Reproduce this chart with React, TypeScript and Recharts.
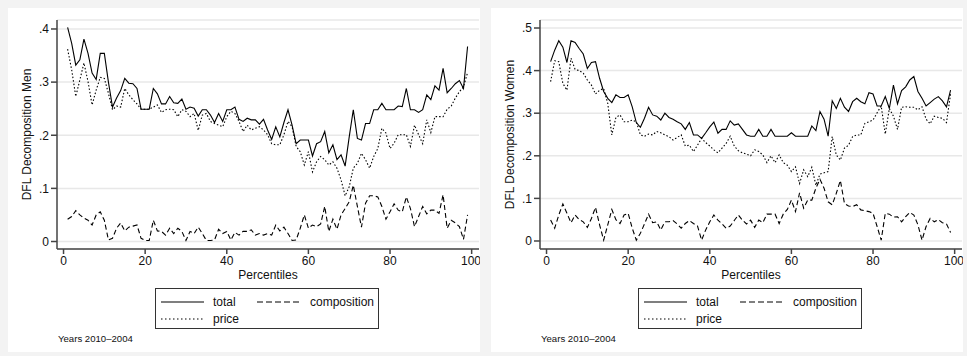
import { LineChart, Line, XAxis, YAxis, CartesianGrid, Legend } from 'recharts'

// percentiles 1..99
const pctl = [
  1, 2, 3, 4, 5, 6, 7, 8, 9, 10, 11, 12, 13, 14, 15, 16, 17, 18, 19, 20,
  21, 22, 23, 24, 25, 26, 27, 28, 29, 30, 31, 32, 33, 34, 35, 36, 37, 38, 39, 40,
  41, 42, 43, 44, 45, 46, 47, 48, 49, 50, 51, 52, 53, 54, 55, 56, 57, 58, 59, 60,
  61, 62, 63, 64, 65, 66, 67, 68, 69, 70, 71, 72, 73, 74, 75, 76, 77, 78, 79, 80,
  81, 82, 83, 84, 85, 86, 87, 88, 89, 90, 91, 92, 93, 94, 95, 96, 97, 98, 99,
]

const menTotal = [
  .403, .373, .332, .342, .381, .354, .317, .305, .354, .354,
  .300, .253, .270, .284, .307, .298, .297, .288, .249, .249,
  .249, .288, .278, .259, .259, .273, .261, .260, .268, .249,
  .253, .251, .236, .248, .248, .238, .224, .241, .226, .248,
  .248, .253, .230, .226, .232, .229, .229, .221, .230, .210,
  .192, .216, .197, .224, .248, .219, .184, .191, .191, .191,
  .161, .184, .188, .207, .167, .182, .154, .163, .142, .197,
  .248, .194, .191, .222, .222, .248, .248, .260, .248, .248,
  .248, .255, .254, .288, .248, .248, .243, .248, .276, .267,
  .293, .285, .326, .280, .288, .297, .303, .288, .367,
]
const menPrice = [
  .362, .323, .273, .304, .336, .301, .257, .285, .309, .307,
  .279, .248, .255, .253, .288, .276, .267, .259, .249, .249,
  .249, .253, .257, .243, .248, .249, .248, .235, .248, .245,
  .235, .241, .209, .238, .241, .226, .222, .219, .216, .235,
  .245, .241, .226, .207, .219, .210, .213, .216, .210, .201,
  .184, .182, .182, .201, .226, .216, .179, .169, .144, .169,
  .131, .150, .160, .154, .144, .150, .138, .116, .086, .103,
  .138, .147, .166, .154, .138, .160, .175, .213, .204, .175,
  .185, .201, .201, .201, .179, .219, .201, .184, .229, .205,
  .235, .235, .235, .249, .255, .270, .282, .291, .318,
]
const menComp = [
  .042, .047, .058, .050, .044, .040, .031, .050, .056, .040,
  .003, .006, .025, .035, .020, .027, .029, .031, .006, .002,
  .002, .040, .020, .019, .012, .025, .015, .025, .019, .002,
  .019, .015, .027, .015, .002, .002, .003, .023, .015, .019,
  .003, .017, .012, .019, .019, .022, .012, .015, .012, .015,
  .012, .031, .020, .027, .015, .002, .003, .025, .050, .025,
  .031, .028, .033, .066, .019, .042, .023, .050, .062, .075,
  .106, .066, .027, .072, .086, .086, .084, .066, .042, .056,
  .071, .059, .056, .084, .062, .028, .047, .066, .052, .059,
  .059, .053, .088, .025, .040, .035, .028, .004, .050,
]

const womenTotal = [
  .421, .448, .470, .455, .419, .470, .466, .452, .439, .405,
  .419, .421, .382, .351, .335, .325, .343, .337, .337, .343,
  .315, .278, .267, .288, .314, .296, .293, .284, .300, .290,
  .286, .280, .275, .262, .278, .249, .249, .241, .254, .268,
  .279, .253, .262, .262, .282, .272, .275, .262, .249, .246,
  .246, .262, .246, .246, .262, .246, .246, .246, .246, .254,
  .246, .246, .246, .246, .270, .259, .304, .286, .246, .329,
  .311, .335, .314, .304, .327, .335, .327, .322, .348, .345,
  .317, .317, .339, .311, .366, .322, .353, .362, .378, .386,
  .351, .335, .317, .325, .333, .339, .329, .315, .354,
]
const womenPrice = [
  .374, .423, .421, .370, .354, .429, .403, .400, .394, .378,
  .366, .345, .354, .358, .323, .249, .290, .296, .280, .280,
  .284, .280, .249, .246, .251, .249, .257, .254, .249, .245,
  .237, .243, .249, .223, .225, .210, .225, .241, .231, .223,
  .214, .207, .218, .229, .246, .223, .212, .207, .204, .200,
  .214, .210, .202, .184, .200, .184, .202, .184, .178, .163,
  .174, .135, .167, .151, .173, .131, .157, .160, .163, .245,
  .202, .190, .218, .225, .245, .249, .249, .276, .280, .284,
  .301, .317, .251, .311, .293, .262, .314, .315, .314, .314,
  .308, .315, .286, .275, .293, .290, .288, .278, .345,
]
const womenComp = [
  .049, .030, .061, .087, .065, .043, .061, .050, .045, .032,
  .053, .079, .038, .002, .038, .074, .050, .041, .061, .065,
  .030, .002, .018, .040, .063, .043, .045, .026, .045, .045,
  .048, .040, .030, .041, .048, .041, .035, .002, .026, .045,
  .061, .049, .040, .030, .035, .048, .061, .049, .040, .049,
  .032, .049, .043, .063, .063, .063, .041, .063, .074, .096,
  .069, .113, .077, .096, .096, .124, .145, .124, .092, .085,
  .112, .142, .088, .082, .081, .085, .073, .071, .069, .065,
  .034, .002, .065, .063, .056, .057, .045, .057, .067, .061,
  .038, .002, .034, .053, .045, .050, .043, .040, .020,
]

const xTicks = [0, 20, 40, 60, 80, 100]
const menTicks = [0, 0.1, 0.2, 0.3, 0.4]
const womenTicks = [0, 0.1, 0.2, 0.3, 0.4, 0.5]

const FONT = '"Liberation Sans", Arial, Helvetica, sans-serif'
const INK = '#111'

const fmt = (v: number) => (v === 0 ? '0' : v.toFixed(1).replace(/^0/, ''))

function KeyBox() {
  return (
    <div style={{ width: 222, height: 39, border: '1px solid #333', background: '#fff' }}>
      <svg width={222} height={39} style={{ display: 'block', fontFamily: FONT, fontSize: 12 }}>
        <line x1={5} x2={48} y1={13} y2={13} stroke="#000" strokeWidth={1.1} />
        <text x={57} y={17} fill={INK}>total</text>
        <line x1={101} x2={146} y1={13} y2={13} stroke="#000" strokeWidth={1.1} strokeDasharray="6 3" />
        <text x={154} y={17} fill={INK}>composition</text>
        <line x1={5} x2={48} y1={30} y2={30} stroke="#000" strokeWidth={1.1} strokeDasharray="1.5 2.5" />
        <text x={57} y={34} fill={INK}>price</text>
      </svg>
    </div>
  )
}

interface PanelProps {
  left: number
  ylabel: string
  total: number[]
  price: number[]
  comp: number[]
  yDomain: [number, number]
  yTicks: number[]
}

function Panel({ left, ylabel, total, price, comp, yDomain, yTicks }: PanelProps) {
  const rows = pctl.map((p, i) => ({ p, total: total[i], price: price[i], comp: comp[i] }))
  const tick = { fill: INK, fontSize: 12, fontFamily: FONT }
  const axisLine = { stroke: '#444', strokeWidth: 1.5 }
  return (
    <div style={{ position: 'absolute', left, top: 8, width: 472, height: 344, background: '#fff' }}>
      <LineChart width={472} height={344} data={rows} margin={{ top: 12, right: 1, bottom: 72, left: 0 }}>
        <CartesianGrid vertical={false} stroke="#e8e8e8" strokeWidth={1.5} />
        <XAxis type="number" dataKey="p" domain={[-1.6, 101.8]} allowDataOverflow ticks={xTicks}
          tick={tick} axisLine={axisLine} tickLine={axisLine} tickSize={5} height={31}
          label={{ value: 'Percentiles', position: 'insideBottom', offset: 1, fontSize: 12, fontFamily: FONT, style: { fill: INK } }} />
        <YAxis domain={yDomain} allowDataOverflow ticks={yTicks} tickFormatter={fmt}
          tick={tick} axisLine={axisLine} tickLine={axisLine} tickSize={6} width={49}
          label={{ value: ylabel, angle: -90, position: 'insideLeft', offset: 19, fontSize: 12, fontFamily: FONT, style: { textAnchor: 'middle', fill: INK } }} />
        <Legend verticalAlign="middle" align="center" content={() => <KeyBox />}
          wrapperStyle={{ left: 147, top: 280, width: 224, height: 41 }} />
        <Line type="linear" dataKey="total" stroke="#000" strokeWidth={1.1} dot={false} isAnimationActive={false} />
        <Line type="linear" dataKey="comp" stroke="#000" strokeWidth={1.1} strokeDasharray="5 3" dot={false} isAnimationActive={false} />
        <Line type="linear" dataKey="price" stroke="#000" strokeWidth={1.1} strokeDasharray="1.5 2" dot={false} isAnimationActive={false} />
      </LineChart>
      <div style={{ position: 'absolute', left: 50, top: 325, fontFamily: FONT, fontSize: 9.6, color: INK, whiteSpace: 'nowrap' }}>
        Years 2010–2004
      </div>
    </div>
  )
}

export default function App() {
  return (
    <div style={{ position: 'absolute', left: 0, top: 0, width: 967, height: 356, background: '#f3f3f3', overflow: 'hidden' }}>
      <Panel left={8} ylabel="DFL Decomposition Men" total={menTotal} price={menPrice} comp={menComp}
        yDomain={[-0.0141, 0.4169]} yTicks={menTicks} />
      <Panel left={491} ylabel="DFL Decomposition Women" total={womenTotal} price={womenPrice} comp={womenComp}
        yDomain={[-0.0188, 0.5188]} yTicks={womenTicks} />
    </div>
  )
}
